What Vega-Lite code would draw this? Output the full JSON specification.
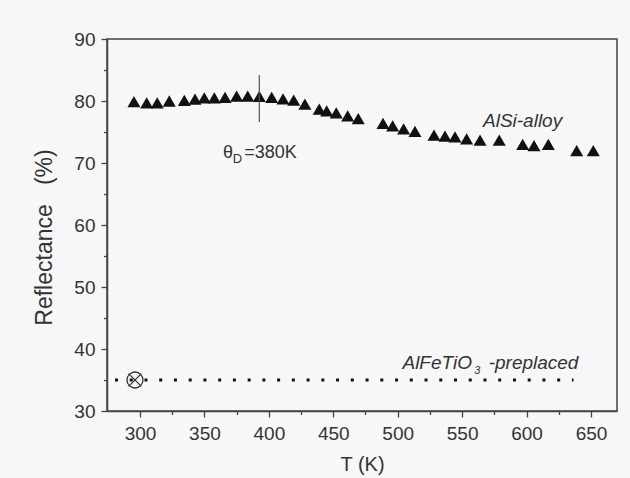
{
  "$schema": "https://vega.github.io/schema/vega-lite/v6.json",
  "width": 510,
  "height": 372,
  "autosize": {"type": "none"},
  "padding": {"left": 107, "top": 39, "right": 13, "bottom": 67},
  "background": "#f7f7f7",
  "config": {
    "view": {"stroke": "#444", "strokeWidth": 1.5, "fill": null},
    "font": "Liberation Sans",
    "axis": {
      "domainColor": "#444",
      "domainWidth": 1.5,
      "tickColor": "#444",
      "tickWidth": 1.3,
      "labelFont": "Liberation Sans",
      "labelFontSize": 19,
      "labelColor": "#333",
      "titleFont": "Liberation Sans",
      "titleFontSize": 20,
      "titleFontWeight": "normal",
      "titleColor": "#333",
      "grid": false
    }
  },
  "datasets": {
    "alsi": [
      {"T": 295.3, "R": 79.9}, {"T": 305.2, "R": 79.7}, {"T": 313.4, "R": 79.7},
      {"T": 322.7, "R": 80.0}, {"T": 334.4, "R": 80.1}, {"T": 342.7, "R": 80.3},
      {"T": 349.9, "R": 80.5}, {"T": 357.7, "R": 80.5}, {"T": 366.0, "R": 80.6},
      {"T": 375.0, "R": 80.8}, {"T": 383.6, "R": 80.8}, {"T": 392.6, "R": 80.75},
      {"T": 402.2, "R": 80.6}, {"T": 411.0, "R": 80.35}, {"T": 419.3, "R": 80.15},
      {"T": 428.0, "R": 79.5}, {"T": 439.1, "R": 78.7}, {"T": 444.9, "R": 78.4},
      {"T": 452.3, "R": 78.1}, {"T": 461.2, "R": 77.6}, {"T": 469.4, "R": 77.15},
      {"T": 488.6, "R": 76.4}, {"T": 496.1, "R": 76.0}, {"T": 504.6, "R": 75.5},
      {"T": 513.4, "R": 75.1}, {"T": 528.2, "R": 74.5}, {"T": 536.7, "R": 74.35},
      {"T": 544.5, "R": 74.2}, {"T": 553.5, "R": 73.9}, {"T": 563.9, "R": 73.7},
      {"T": 578.8, "R": 73.7}, {"T": 597.0, "R": 73.0}, {"T": 605.8, "R": 72.8},
      {"T": 616.9, "R": 73.0}, {"T": 638.9, "R": 72.0}, {"T": 651.8, "R": 72.0}
    ],
    "ref": [{"T": 280.6, "R": 35}, {"T": 636.5, "R": 35}],
    "sample": [{"T": 296.1, "R": 35}],
    "theta": [{"T": 392.6, "R": 84.2, "R2": 76.6}],
    "italic": [
      {"T": 566.2, "R": 75.8, "text": "AlSi-alloy"},
      {"T": 503.7, "R": 36.8, "text": "AlFeTiO"},
      {"T": 570.6, "R": 36.8, "text": "-preplaced"}
    ],
    "italicsub": [{"T": 559.5, "R": 36.0, "text": "3"}],
    "normal": [
      {"T": 364.4, "R": 70.75, "text": "θ"},
      {"T": 380.9, "R": 70.75, "text": "=380K"}
    ],
    "normalsub": [{"T": 372.0, "R": 69.95, "text": "D"}]
  },
  "encoding": {
    "x": {
      "field": "T", "type": "quantitative",
      "scale": {"domain": [274.4, 670.2], "nice": false, "zero": false},
      "axis": {
        "orient": "bottom", "title": "T (K)",
        "values": [300, 325, 350, 375, 400, 425, 450, 475, 500, 525, 550, 575, 600, 625, 650],
        "labelExpr": "datum.value % 50 === 0 ? datum.label : ''",
        "tickSize": {"condition": {"test": "datum.value % 50 === 0", "value": 6}, "value": 3.5},
        "labelPadding": 7,
        "titlePadding": 11
      }
    },
    "y": {
      "field": "R", "type": "quantitative",
      "scale": {"domain": [30, 90], "nice": false, "zero": false},
      "axis": {
        "orient": "left", "title": "Reflectance\u00a0\u00a0 (%)",
        "values": [30, 35, 40, 45, 50, 55, 60, 65, 70, 75, 80, 85, 90],
        "labelExpr": "datum.value % 10 === 0 ? datum.label : ''",
        "tickSize": {"condition": {"test": "datum.value % 10 === 0", "value": 6}, "value": 3.5},
        "labelPadding": 6,
        "titlePadding": 17,
        "titleFontSize": 23,
        "titleY": 198
      }
    }
  },
  "layer": [
    {
      "data": {"name": "alsi"},
      "mark": {"type": "point", "shape": "triangle-up", "filled": true, "color": "#111", "size": 170, "opacity": 1}
    },
    {
      "data": {"name": "ref"},
      "mark": {"type": "line", "color": "#111", "strokeWidth": 3, "strokeDash": [3, 11.74], "strokeCap": "butt"}
    },
    {
      "data": {"name": "sample"},
      "mark": {"type": "point", "shape": "circle", "filled": false, "color": "#333", "strokeWidth": 1.3, "size": 256, "opacity": 1}
    },
    {
      "data": {"name": "sample"},
      "mark": {"type": "point", "shape": "M-0.8,-0.8L0.8,0.8M-0.8,0.8L0.8,-0.8", "filled": false, "color": "#333", "strokeWidth": 1.3, "size": 256, "opacity": 1}
    },
    {
      "data": {"name": "theta"},
      "mark": {"type": "rule", "color": "#555", "strokeWidth": 1.2},
      "encoding": {
        "y2": {"field": "R2"}
      }
    },
    {
      "data": {"name": "italic"},
      "mark": {"type": "text", "align": "left", "baseline": "alphabetic", "fontStyle": "italic", "fontSize": 19, "color": "#333", "font": "Liberation Sans"},
      "encoding": {
        "text": {"field": "text"}
      }
    },
    {
      "data": {"name": "italicsub"},
      "mark": {"type": "text", "align": "left", "baseline": "alphabetic", "fontStyle": "italic", "fontSize": 11, "color": "#333", "font": "Liberation Sans"},
      "encoding": {
        "text": {"field": "text"}
      }
    },
    {
      "data": {"name": "normal"},
      "mark": {"type": "text", "align": "left", "baseline": "alphabetic", "fontSize": 18, "color": "#333", "font": "Liberation Sans"},
      "encoding": {
        "text": {"field": "text"}
      }
    },
    {
      "data": {"name": "normalsub"},
      "mark": {"type": "text", "align": "left", "baseline": "alphabetic", "fontSize": 13, "color": "#333", "font": "Liberation Sans"},
      "encoding": {
        "text": {"field": "text"}
      }
    }
  ]
}
